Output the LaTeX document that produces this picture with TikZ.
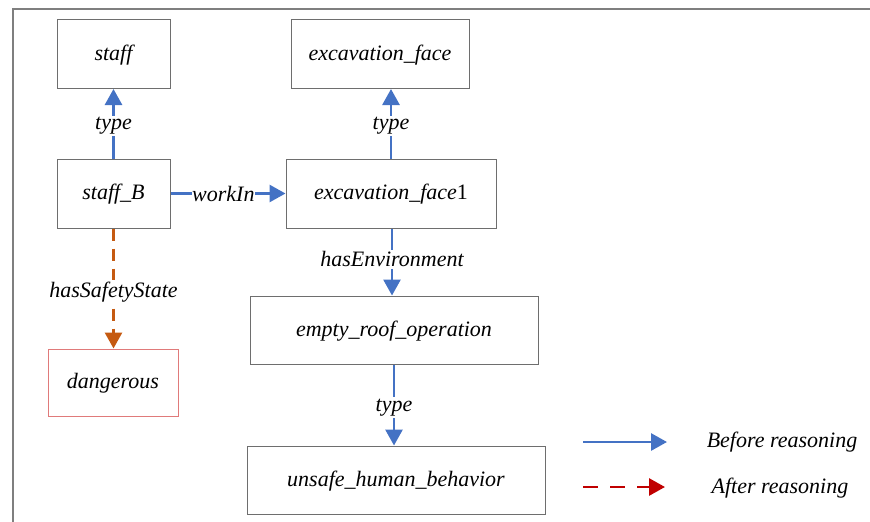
\documentclass[tikz,border=0pt]{standalone}
\usepackage{fontspec}
\setmainfont{Liberation Serif}
\usetikzlibrary{arrows.meta}
\definecolor{relblue}{HTML}{4472C4}
\definecolor{infer}{HTML}{C55A11}
\definecolor{legred}{HTML}{C00000}
\definecolor{boxgray}{HTML}{6E6E6E}
\definecolor{framegray}{HTML}{7F7F7F}
\definecolor{softred}{HTML}{E07A7A}
\tikzset{
  entity/.style={draw=boxgray, line width=1pt, minimum height=69pt, inner sep=0pt,
    text depth=3pt, font=\fontsize{22}{26}\selectfont\itshape},
  rel/.style={draw=relblue, line width=2.8pt, -{Triangle[length=16pt,width=17pt]}},
  inferred/.style={draw=infer, line width=2.8pt, dash pattern=on 12pt off 8pt,
    -{Triangle[length=16pt,width=17pt]}},
  lbl/.style={fill=white, inner sep=1.5pt, font=\fontsize{22}{26}\selectfont\itshape},
}
\begin{document}
\begin{tikzpicture}[x=1pt, y=-1pt]
\useasboundingbox (0,0) rectangle (870,522);
% outer frame (top and left edges)
\draw[framegray, line width=2pt] (870,8.5) -- (12.5,8.5) -- (12.5,522);

% entities
\node[entity, minimum width=113pt] (staff) at (113.5,54) {staff};
\node[entity, minimum width=178pt] (exface) at (380,54) {excavation\_face};
\node[entity, minimum width=113pt] (staffB) at (113.5,193.5) {staff\_B};
\node[entity, minimum width=210pt] (exface1) at (391,193.5) {excavation\_face\upshape 1};
\node[entity, minimum width=288pt, minimum height=68pt] (roof) at (394,330) {empty\_roof\_operation};
\node[entity, draw=softred, minimum width=130pt, minimum height=67pt] (danger) at (113,382.5) {dangerous};
\node[entity, minimum width=298pt, minimum height=68pt] (unsafe) at (396,480) {unsafe\_human\_behavior};

% relations
\draw[rel] (staffB) -- node[lbl, pos=0.47] {type} (staff);
\draw[rel] (exface1.north) -- node[lbl, pos=0.47] {type} (exface1.north |- exface.south);
\draw[rel] (staffB) -- node[lbl, pos=0.46, inner sep=0pt] {workIn} (exface1);
\coordinate (envtop) at ([xshift=1pt]exface1.south);
\draw[rel] (envtop) -- node[lbl, pos=0.46] {hasEnvironment} (envtop |- roof.north);
\draw[rel] (roof.south) -- node[lbl, pos=0.53] {type} (roof.south |- unsafe.north);
\draw[inferred] (staffB) -- node[lbl, pos=0.53] {hasSafetyState} (staffB |- danger.north);

% legend
\coordinate (la1) at (583,442);
\coordinate (la2) at (667,442);
\coordinate (lb1) at (583,487);
\coordinate (lb2) at (665,487);
\draw[rel] (la1) -- (la2);
\draw[draw=legred, line width=2.8pt, dash pattern=on 15pt off 12pt,
  -{Triangle[length=16pt,width=17pt]}] (lb1) -- (lb2);
\node[lbl, fill=none] (legA) at (782,442) {Before reasoning};
\node[lbl, fill=none] (legB) at (780,488) {After reasoning};
\end{tikzpicture}
\end{document}
